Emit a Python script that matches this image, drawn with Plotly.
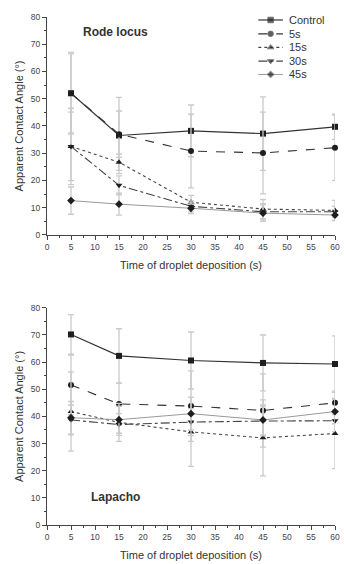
import plotly.graph_objects as go
from plotly.subplots import make_subplots

times = [5, 15, 30, 45, 60]
series_names = ["Control", "5s", "15s", "30s", "45s"]

# Rode locus (top)
rode_control = [52.0, 36.5, 38.2, 37.2, 39.7]
rode_control_err = [15.0, 14.0, 9.5, 13.5, 4.6]
rode_5s = [52.0, 37.0, 30.8, 30.1, 32.0]
rode_5s_err = [14.5, 8.5, 13.5, 15.0, 12.0]
rode_15s = [32.5, 26.7, 12.0, 9.5, 9.0]
rode_15s_err = [14.0, 3.0, 2.5, 3.5, 3.7]
rode_30s = [32.5, 18.2, 10.5, 8.5, 8.5]
rode_30s_err = [12.6, 3.5, 2.0, 3.0, 2.0]
rode_45s = [12.6, 11.3, 9.8, 8.0, 7.3]
rode_45s_err = [5.0, 4.0, 2.0, 3.0, 2.0]

# Lapacho (bottom)
lap_control = [70.2, 62.3, 60.6, 59.7, 59.3]
lap_control_err = [7.3, 10.0, 10.5, 10.3, 10.4]
lap_5s = [51.6, 44.6, 43.8, 42.2, 45.0]
lap_5s_err = [11.0, 7.7, 13.0, 13.5, 4.3]
lap_15s = [41.8, 37.8, 34.3, 32.1, 33.7]
lap_15s_err = [14.6, 7.0, 12.7, 14.0, 12.9]
lap_30s = [38.7, 37.0, 37.9, 38.3, 38.4]
lap_30s_err = [5.5, 4.0, 5.0, 5.5, 4.0]
lap_45s = [39.5, 38.8, 41.0, 38.7, 41.8]
lap_45s_err = [6.0, 5.0, 6.0, 5.5, 4.5]

styles = {
    "Control": dict(dash="solid", color="#333333", width=1.2, symbol="square"),
    "5s": dict(dash="dash", color="#333333", width=1.1, symbol="circle"),
    "15s": dict(dash="dot", color="#444444", width=1.1, symbol="triangle-up"),
    "30s": dict(dash="dashdot", color="#444444", width=1.1, symbol="triangle-down"),
    "45s": dict(dash="solid", color="#999999", width=1.0, symbol="diamond"),
}

rode = [(rode_control, rode_control_err), (rode_5s, rode_5s_err), (rode_15s, rode_15s_err),
        (rode_30s, rode_30s_err), (rode_45s, rode_45s_err)]
lap = [(lap_control, lap_control_err), (lap_5s, lap_5s_err), (lap_15s, lap_15s_err),
       (lap_30s, lap_30s_err), (lap_45s, lap_45s_err)]

FONT = "Liberation Sans, Arial, sans-serif"

fig = make_subplots(rows=2, cols=1, vertical_spacing=0.1)

for row, data in ((1, rode), (2, lap)):
    for name, (vals, errs) in zip(series_names, data):
        s = styles[name]
        fig.add_trace(go.Scatter(
            x=times, y=vals, name=name, mode="lines+markers",
            line=dict(color=s["color"], width=s["width"], dash=s["dash"]),
            marker=dict(symbol=s["symbol"], size=6, color="#1e1e1e"),
            error_y=dict(type="data", array=errs, visible=True, color="#cacaca",
                         thickness=1.3, width=3),
            cliponaxis=False,
            showlegend=False,
        ), row=row, col=1)

# Compact legend drawn on an overlay axis measured in pixels of the top panel
legend_y = [20, 34, 47.7, 61.5, 75]
legend_x0, legend_xm, legend_x1, legend_xt = 262, 274.5, 287, 291
annotations = []
for name, ly in zip(series_names, legend_y):
    s = styles[name]
    fig.add_trace(go.Scatter(
        x=[legend_x0, legend_xm, legend_x1], y=[ly, ly, ly], mode="lines+markers",
        line=dict(color=s["color"], width=s["width"], dash=s["dash"]),
        marker=dict(symbol=s["symbol"], size=[0, 5.5, 0], color="#1e1e1e"),
        xaxis="x3", yaxis="y3", showlegend=False, hoverinfo="skip", cliponaxis=False,
    ))
    annotations.append(dict(x=legend_xt, y=ly, xref="x3", yref="y3", text=name,
                            showarrow=False, xanchor="left", yanchor="middle",
                            font=dict(family=FONT, size=11, color="#333333")))

axis_font = dict(family=FONT, size=8.5, color="#444444")
title_font = dict(family=FONT, size=11, color="#333333")

for r in (1, 2):
    fig.update_xaxes(range=[0, 60], dtick=5, tick0=0, ticks="outside", ticklen=4,
                     tickcolor="#444", showline=True, linecolor="#444", linewidth=1,
                     showgrid=False, zeroline=False, tickfont=axis_font,
                     ticklabeloverflow="allow",
                     minor=dict(dtick=2.5, ticklen=2, ticks="outside", tickcolor="#444"),
                     title=dict(text="Time of droplet deposition (s)", font=title_font, standoff=10),
                     row=r, col=1)
    fig.update_yaxes(range=[0, 80], dtick=10, tick0=0, ticks="outside", ticklen=4,
                     tickcolor="#444", showline=True, linecolor="#444", linewidth=1,
                     showgrid=False, zeroline=False, tickfont=axis_font,
                     minor=dict(dtick=5, ticklen=2, ticks="outside", tickcolor="#444"),
                     title=dict(text="Apparent Contact Angle (°)", font=title_font, standoff=4),
                     row=r, col=1)

annotations += [
    dict(x=7.17, y=74.5, xref="x", yref="y", text="<b>Rode locus</b>", showarrow=False,
         xanchor="left", yanchor="middle", font=dict(family=FONT, size=12, color="#333333")),
    dict(x=8.72, y=10.3, xref="x2", yref="y2", text="<b>Lapacho</b>", showarrow=False,
         xanchor="left", yanchor="middle", font=dict(family=FONT, size=12, color="#333333")),
]

fig.update_layout(
    width=344, height=564,
    margin=dict(l=47, r=4, t=17, b=34),
    plot_bgcolor="white", paper_bgcolor="white",
    xaxis=dict(domain=[0, 1]),
    yaxis=dict(domain=[0.571, 1.0]),
    yaxis2=dict(domain=[0.0, 0.4275]),
    xaxis3=dict(overlaying="x", anchor="y3", range=[47, 340], visible=False, fixedrange=True),
    yaxis3=dict(overlaying="y", anchor="x3", range=[237, 17], visible=False, fixedrange=True),
    font=dict(family=FONT, color="#333333"),
    showlegend=False,
    annotations=annotations,
)

fig.write_html("out.html", config={"displayModeBar": False},
               post_script="document.body.style.margin='0';document.body.style.overflow='hidden';")
